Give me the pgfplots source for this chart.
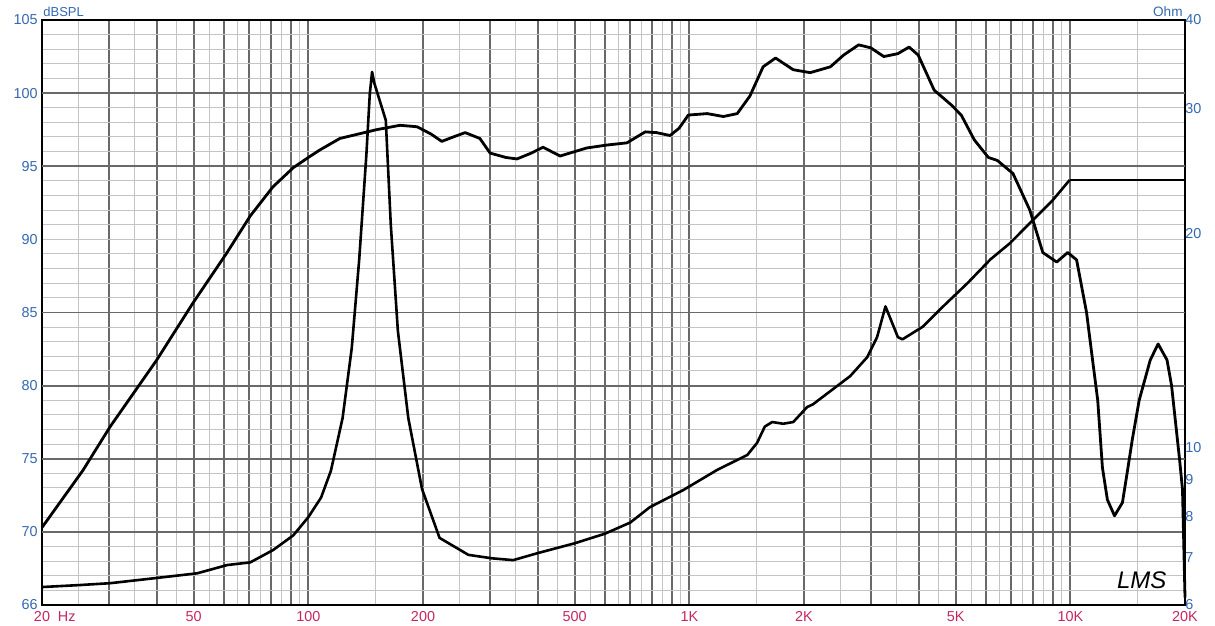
\documentclass[border=0pt]{standalone}
\usepackage{pgfplots}
\pgfplotsset{compat=1.18}
\usepackage{fontspec}
\setmainfont{Liberation Sans}
\usetikzlibrary{calc}
\definecolor{lblue}{RGB}{52,104,175}
\definecolor{lmag}{RGB}{196,38,96}
\definecolor{gmaj}{RGB}{105,105,105}
\definecolor{gmin}{RGB}{196,196,196}

\pgfplotstableread{
f db
20 70.3
25.6 74.2
30.2 77.2
40 81.75
49.8 85.65
61.2 89.1
70.4 91.6
80.8 93.6
91.3 94.9
100 95.6
107 96.1
121 96.9
151 97.5
174 97.8
193 97.7
210 97.2
224 96.7
240 97.0
258 97.3
282 96.9
300 95.9
330 95.6
353 95.5
385 95.9
413 96.3
435 96.0
458 95.7
538 96.25
608 96.45
686 96.6
766 97.35
820 97.3
890 97.1
940 97.6
994 98.5
1114 98.6
1228 98.4
1336 98.6
1442 99.8
1562 101.8
1684 102.4
1874 101.6
2076 101.4
2346 101.8
2540 102.6
2782 103.3
2992 103.1
3240 102.5
3528 102.7
3774 103.15
3988 102.6
4392 100.2
4866 99.2
5172 98.5
5598 96.8
6094 95.6
6430 95.4
7072 94.5
7830 92.0
8468 89.1
9210 88.45
9840 89.1
10386 88.6
11030 85.0
11438 81.75
11800 79.0
12140 74.4
12510 72.2
13060 71.1
13700 72.0
14130 74.2
14540 76.3
15160 79.0
16210 81.75
17000 82.85
17940 81.75
18440 80.0
19360 74.9
19700 72.9
20000 65.5
}\spl

\pgfplotstableread{
f z
20 6.36
25 6.40
30.2 6.44
40 6.55
51.1 6.65
61.2 6.83
70.4 6.89
80.8 7.17
91.3 7.52
100 7.98
108 8.5
114.6 9.27
123 11.0
130 13.8
136 18.4
142 25.8
145 31.5
147 33.8
149 32.6
159.7 28.9
164.6 20.6
171.8 14.6
183 11.0
198.8 8.74
221 7.46
263 7.06
304 6.98
345 6.94
400 7.1
500 7.33
600 7.56
700 7.84
788 8.24
964 8.71
1184 9.30
1420 9.76
1506 10.15
1578 10.7
1650 10.86
1762 10.8
1874 10.86
2038 11.4
2110 11.5
2440 12.2
2642 12.6
2930 13.4
3110 14.3
3272 15.8
3528 14.3
3626 14.2
4104 14.8
4636 15.8
5378 17.05
6168 18.4
6944 19.4
7972 20.9
8992 22.3
9956 23.8
}\imp

\begin{document}
\begin{tikzpicture}
\begin{axis}[
  scale only axis, width=571.5pt, height=292.5pt,
  xmode=log, xmin=20, xmax=20000, ymin=65, ymax=105,
  xtick={20,30,40,50,60,70,80,90,100,200,300,400,500,600,700,800,900,1000,2000,3000,4000,5000,6000,7000,8000,9000,10000,20000},
  xticklabels={20\rlap{\hspace{0.55em}Hz},,,50,,,,,100,200,,,500,,,,,1K,2K,,,5K,,,,,10K,20K},
  minor xtick={25,35,45,55,65,75,85,95,150,250,350,450,550,650,750,850,950,1500,2500,3500,4500,5500,6500,7500,8500,9500,15000},
  ytick={65,70,75,80,85,90,95,100,105},
  yticklabels={66,70,75,80,85,90,95,100,105},
  minor ytick={66,67,...,104},
  extra y ticks={70,75,80,85,95,100},
  extra y tick labels={},
  extra y tick style={grid=major, ymajorgrids=true},
  xmajorgrids=true, xminorgrids=true, ymajorgrids=false, yminorgrids=true,
  major grid style={gmaj, line width=0.95pt},
  minor grid style={gmin, line width=0.5pt},
  tick style={draw=none},
  axis line style={black, line width=1.1pt},
  xticklabel style={lmag, font=\fontsize{7.2}{8}\selectfont, inner sep=0pt, yshift=-3pt},
  yticklabel style={lblue, font=\fontsize{7.2}{8}\selectfont, inner sep=0pt, xshift=-2pt},
  clip=false,
]
\addplot[black, line width=1.4pt, line join=round] table[x=f, y=db] {\spl};
\coordinate (bl) at (rel axis cs:0,0);
\coordinate (tr) at (rel axis cs:1,1);
\node[font=\fontsize{12}{12}\selectfont\itshape, black] at (axis cs:15400,66.7) {LMS};
\end{axis}
\begin{axis}[
  scale only axis, width=571.5pt, height=292.5pt,
  xmode=log, ymode=log, xmin=20, xmax=20000, ymin=6, ymax=40,
  hide x axis, axis y line*=right, y axis line style={draw=none},
  ytick={6,7,8,9,10,20,30,40},
  yticklabels={6,7,8,9,10,20,30,40},
  minor ytick={},
  tick style={draw=none},
  yticklabel style={lblue, font=\fontsize{7.2}{8}\selectfont, inner sep=0pt, xshift=0pt},
]
\addplot[black, line width=1.3pt, line join=round] table[x=f, y=z] {\imp};
\addplot[black, line width=0.6pt] coordinates {(9956,23.8) (20000,23.8)};
\end{axis}
\node[anchor=south west, inner sep=0pt, lblue, font=\fontsize{6.5}{7}\selectfont] at ($(bl |- tr)+(0.5pt,1.6pt)$) {dBSPL};
\node[anchor=south east, inner sep=0pt, lblue, font=\fontsize{6.8}{7}\selectfont] at ($(tr)+(-1pt,1.4pt)$) {Ohm};
\pgfresetboundingbox
\path[use as bounding box] ($(bl)+(-21pt,-10.5pt)$) rectangle ($(tr)+(15pt,10pt)$);
\end{tikzpicture}
\end{document}
